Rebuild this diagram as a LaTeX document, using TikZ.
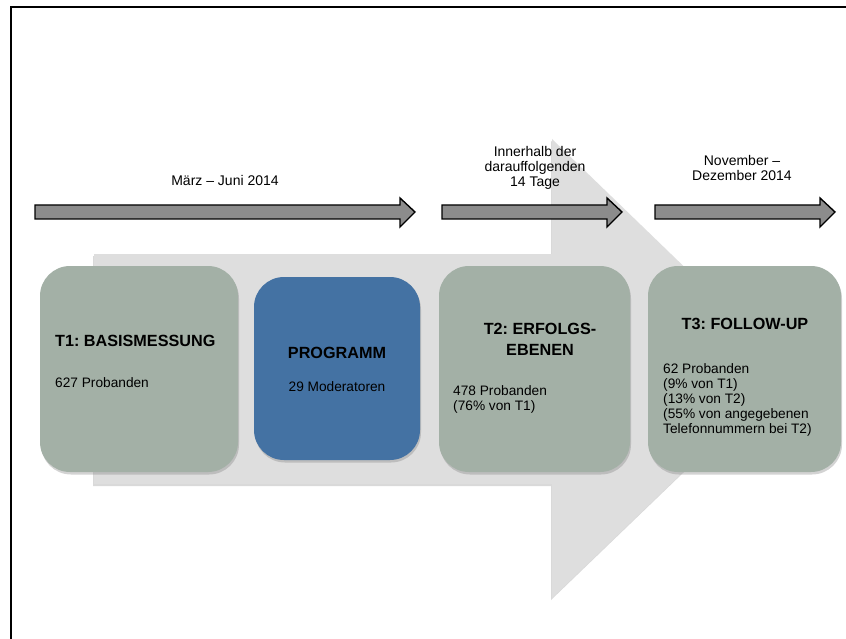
\documentclass[tikz,border=0pt]{standalone}
\usepackage{fontspec}
\setmainfont{Liberation Sans}
\usetikzlibrary{positioning,shadows}
\definecolor{stage}{HTML}{A3B0A6}
\definecolor{prog}{HTML}{4472A3}
\definecolor{band}{HTML}{DEDEDE}
\definecolor{shaft}{HTML}{8C8C8C}
\frenchspacing

\begin{document}
\begin{tikzpicture}[x=1pt,y=-1pt,font=\fontsize{13.7}{15.2}\selectfont,
  stagebox/.style={rounded corners=30pt,fill=stage,inner sep=0pt,
    drop shadow={opacity=0.35,shadow xshift=1pt,shadow yshift=-2.5pt}},
  head/.style={font=\bfseries\fontsize{16.2}{21}\selectfont,inner sep=0pt},
  body/.style={align=left,anchor=west,inner sep=0pt},
  timelbl/.style={align=center,inner sep=0pt,font=\fontsize{14}{15.2}\selectfont}]
  \useasboundingbox (0,0) rectangle (846,639);
  \draw[line width=2pt] (11,639) -- (11,7) -- (846,7);
  \path[fill=band,drop shadow={opacity=0.3,shadow xshift=-1pt,shadow yshift=-2pt}]
    (94,254) -- (552,254) -- (552,139) -- (790,369) -- (552,598) -- (552,484) -- (94,484) -- cycle;
  \foreach \a/\b in {35/415, 442/622, 655/835} {
    \draw[fill=shaft,line width=1.4pt] (\a,205) -- (\b-15,205) -- (\b-15,198) -- (\b,212)
      -- (\b-15,227) -- (\b-15,219) -- (\a,219) -- cycle;
  }
  \node[timelbl] (lblA) at (225,180) {März – Juni 2014};
  \node[timelbl] (lblB) at (535,168) {Innerhalb der\\darauffolgenden\\14 Tage};
  \node[timelbl] (lblC) at (742,168) {November –\\Dezember 2014};

  \node[stagebox,minimum width=198pt,minimum height=206pt] (t1) at (139,369) {};
  \node[stagebox,fill=prog,minimum width=166pt,minimum height=183pt] (prg) at (337,368.5) {};
  \node[stagebox,minimum width=191pt,minimum height=206pt] (t2) at (534.5,369) {};
  \node[stagebox,minimum width=193pt,minimum height=206pt] (t3) at (744.5,369) {};

  \node[head,anchor=west] (t1head) at (55,341) {T1: BASISMESSUNG};
  \node[body] (t1body) at (55,383) {627 Probanden};
  \node[head] (prghead) at (337,353) {PROGRAMM};
  \node[inner sep=0pt] (prgbody) at (337,387) {29 Moderatoren};
  \node[head,align=center] (t2head) at (540,339) {T2: ERFOLGS-\\EBENEN};
  \node[body] (t2body) at (453,399.5) {478 Probanden\\(76\% von T1)};
  \node[head] (t3head) at (745,324) {T3: FOLLOW-UP};
  \node[body] (t3body) at (663,400) {62 Probanden\\(9\% von T1)\\(13\% von T2)\\(55\% von angegebenen\\Telefonnummern bei T2)};
\end{tikzpicture}
\end{document}
